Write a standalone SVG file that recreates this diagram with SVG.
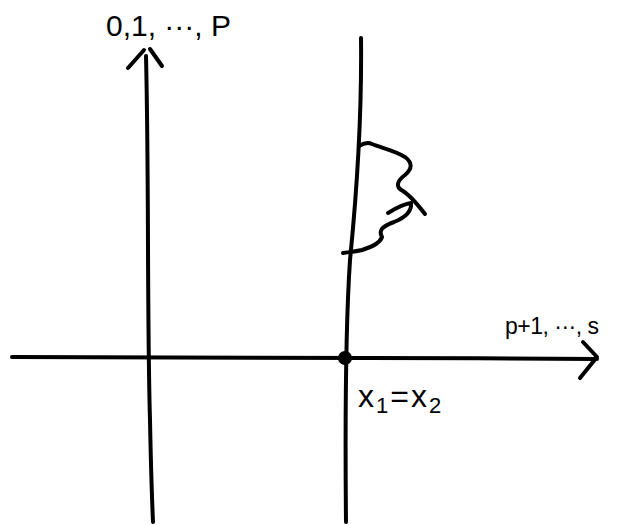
<svg xmlns="http://www.w3.org/2000/svg" width="644" height="525" viewBox="0 0 644 525">
<style>
.s{fill:none;stroke:#000;stroke-width:4;stroke-linecap:round;stroke-linejoin:round}
.t{font-family:"Liberation Sans",Arial,sans-serif;fill:#000}
</style>
<rect width="644" height="525" fill="#fff"/>
<g id="connectors">
<path class="s" d="M146,56 C149,180 147,320 150,420 C151,470 152,500 153,522"/>
<path class="s" d="M128,68 L144,50 M150,49 L162,66"/>
<path class="s" d="M12,357 C200,356 400,358 597,359"/>
<path class="s" d="M583,342 L597,357 L580,378"/>
<path class="s" d="M361,38 C362,120 356,200 350,260 C346,320 345,420 346,522"/>
</g>
<g id="squiggle">
<path class="s" d="M359,146 C364,143 368,142 372,144 C382,148 396,151 405,157 C413,163 412,169 405,175 C397,181 395,187 403,191 C411,196 418,205 425,214"/>
<path class="s" d="M388,213 C396,208 404,204 411,203 C412,212 404,218 394,222 C383,226 378,230 382,237 C380,243 372,247 362,250 C354,252 348,252 343,253"/>
</g>
<g id="origin-point">
<circle cx="345" cy="358" r="7" fill="#000"/>
</g>
<g id="labels">
<text class="t" x="106" y="36" font-size="30">0,1, ···, P</text>
<text class="t" x="505" y="334" font-size="23" letter-spacing="-0.5">p+1, ···, s</text>
<text class="t" x="358" y="407" font-size="32" letter-spacing="2">x<tspan font-size="22" dy="6">1</tspan><tspan dy="-6">=x</tspan><tspan font-size="22" dy="6">2</tspan></text>
</g>
</svg>
